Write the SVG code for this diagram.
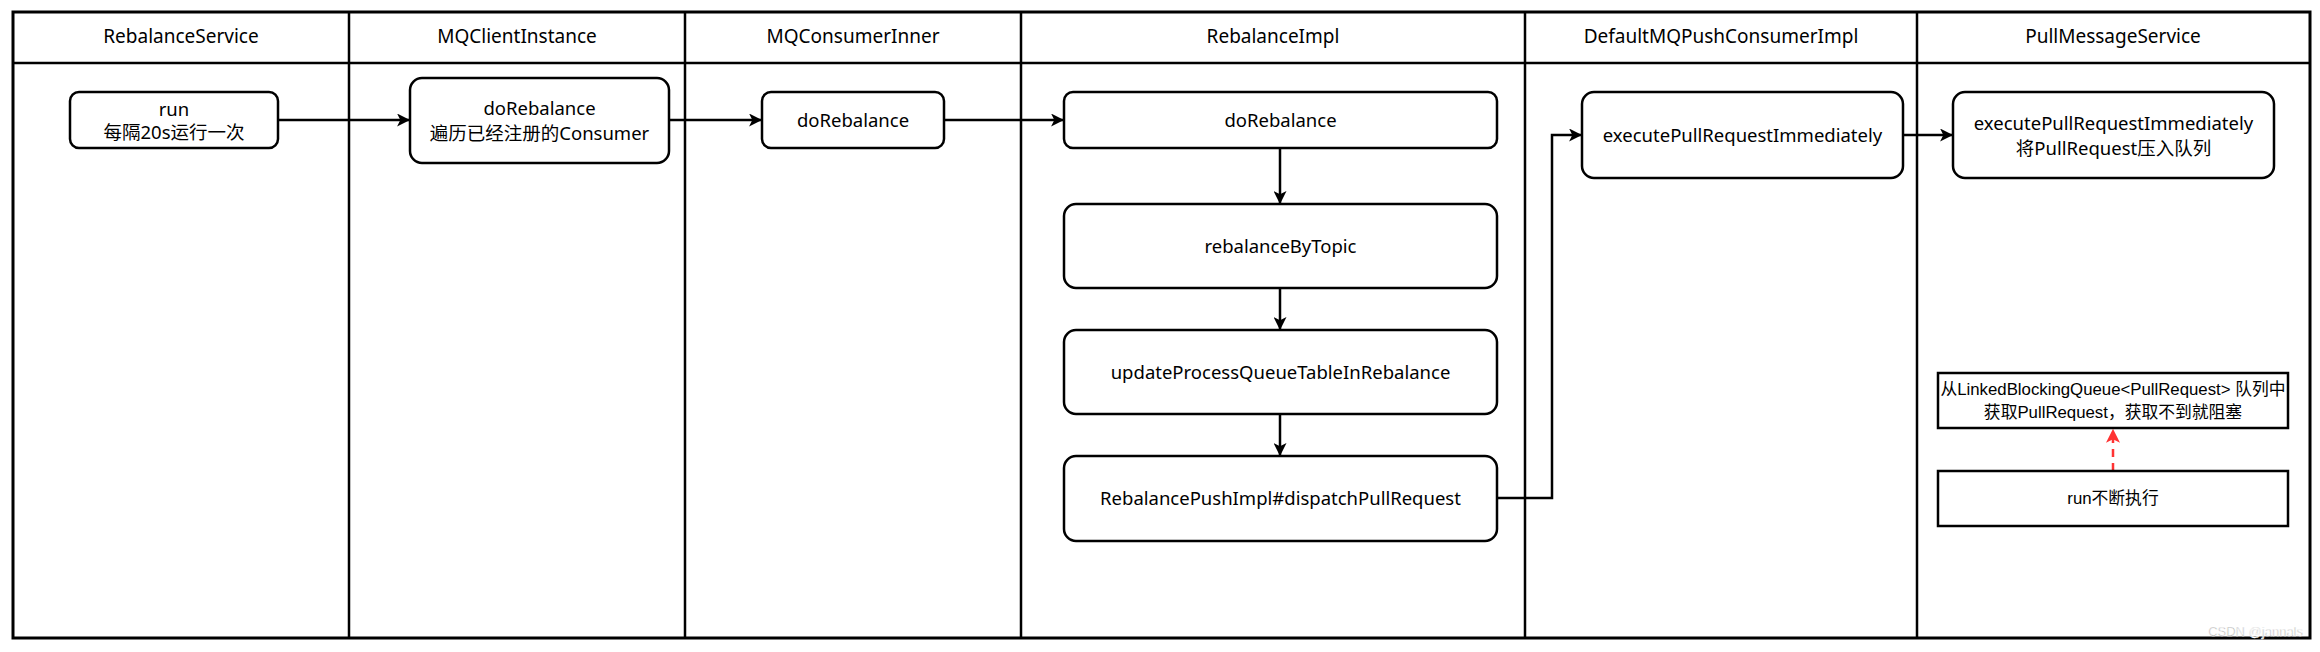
<svg xmlns="http://www.w3.org/2000/svg" width="2320" height="652" viewBox="0 0 2320 652">
<defs>
<style>
.frame{fill:none;stroke:#000;stroke-width:3}
.lane{fill:none;stroke:#000;stroke-width:2.5}
.node{fill:#fff;stroke:#000;stroke-width:2.5}
.sq{fill:#fff;stroke:#000;stroke-width:2.5}
.hd{font-family:"Noto Sans","Noto Sans CJK SC",sans-serif;font-size:19px;fill:#000;text-anchor:middle;dominant-baseline:central}
.tx{font-family:"Noto Sans","Noto Sans CJK SC",sans-serif;font-size:18.5px;fill:#000;text-anchor:middle;dominant-baseline:central}
.tx2{font-family:"Liberation Sans","Noto Sans CJK SC",sans-serif;font-size:16.8px;fill:#000;text-anchor:middle;dominant-baseline:central}
.edge{fill:none;stroke:#000;stroke-width:2.5}
.red{fill:none;stroke:#FF3333;stroke-width:2.5;stroke-dasharray:8 6}
.wm{font-family:"Liberation Sans",sans-serif;font-size:13px;fill:#999;stroke:#fff;stroke-width:0.6;text-anchor:end}
</style>
<marker id="arr" viewBox="0 0 12 12" refX="11" refY="6" markerWidth="13" markerHeight="13" markerUnits="userSpaceOnUse" orient="auto">
<path d="M0,0 L12,6 L0,12 L3,6 Z" fill="#000"/>
</marker>
<marker id="arrR" viewBox="0 0 12 12" refX="11" refY="6" markerWidth="14" markerHeight="14" markerUnits="userSpaceOnUse" orient="auto">
<path d="M0,0 L12,6 L0,12 L3,6 Z" fill="#FF3333"/>
</marker>
</defs>
<rect width="2320" height="652" fill="#fff"/>
<g id="pool">
<rect class="frame" x="13" y="12" width="2297" height="626"/>
<line class="lane" x1="13" y1="63" x2="2310" y2="63"/>
<line class="lane" x1="349" y1="12" x2="349" y2="638"/>
<line class="lane" x1="685" y1="12" x2="685" y2="638"/>
<line class="lane" x1="1021" y1="12" x2="1021" y2="638"/>
<line class="lane" x1="1525" y1="12" x2="1525" y2="638"/>
<line class="lane" x1="1917" y1="12" x2="1917" y2="638"/>
<text class="hd" x="181" y="36">RebalanceService</text>
<text class="hd" x="517" y="36">MQClientInstance</text>
<text class="hd" x="853" y="36">MQConsumerInner</text>
<text class="hd" x="1273" y="36">RebalanceImpl</text>
<text class="hd" x="1721" y="36">DefaultMQPushConsumerImpl</text>
<text class="hd" x="2113" y="36">PullMessageService</text>
</g>
<g id="connectors">
<line class="edge" x1="278" y1="120" x2="409" y2="120" marker-end="url(#arr)"/>
<line class="edge" x1="669" y1="120" x2="761" y2="120" marker-end="url(#arr)"/>
<line class="edge" x1="944" y1="120" x2="1063" y2="120" marker-end="url(#arr)"/>
<line class="edge" x1="1280" y1="148" x2="1280" y2="203" marker-end="url(#arr)"/>
<line class="edge" x1="1280" y1="288" x2="1280" y2="329" marker-end="url(#arr)"/>
<line class="edge" x1="1280" y1="414" x2="1280" y2="455" marker-end="url(#arr)"/>
<polyline class="edge" points="1497,498 1552,498 1552,135 1581,135" marker-end="url(#arr)"/>
<line class="edge" x1="1903" y1="135" x2="1952" y2="135" marker-end="url(#arr)"/>
<line class="red" x1="2113" y1="471" x2="2113" y2="430" marker-end="url(#arrR)"/>
</g>
<g id="n-run">
<rect class="node" x="70" y="92" width="208" height="56" rx="9"/>
<text class="tx" x="174" y="108">run</text>
<text class="tx" x="174" y="131">每隔20s运行一次</text>
</g>
<g id="n-client-dorebalance">
<rect class="node" x="410" y="78" width="259" height="85" rx="12"/>
<text class="tx" x="539.5" y="107">doRebalance</text>
<text class="tx" x="539.5" y="132">遍历已经注册的Consumer</text>
</g>
<g id="n-inner-dorebalance">
<rect class="node" x="762" y="92" width="182" height="56" rx="9"/>
<text class="tx" x="853" y="119">doRebalance</text>
</g>
<g id="n-impl-dorebalance">
<rect class="node" x="1064" y="92" width="433" height="56" rx="9"/>
<text class="tx" x="1280.5" y="119">doRebalance</text>
</g>
<g id="n-rebalanceByTopic">
<rect class="node" x="1064" y="204" width="433" height="84" rx="12"/>
<text class="tx" x="1280.5" y="245">rebalanceByTopic</text>
</g>
<g id="n-updateProcessQueue">
<rect class="node" x="1064" y="330" width="433" height="84" rx="12"/>
<text class="tx" x="1280.5" y="371">updateProcessQueueTableInRebalance</text>
</g>
<g id="n-dispatch">
<rect class="node" x="1064" y="456" width="433" height="85" rx="12"/>
<text class="tx" x="1280.5" y="497">RebalancePushImpl#dispatchPullRequest</text>
</g>
<g id="n-executeImmediately">
<rect class="node" x="1582" y="92" width="321" height="86" rx="12"/>
<text class="tx" x="1742.5" y="134">executePullRequestImmediately</text>
</g>
<g id="n-pull-execute">
<rect class="node" x="1953" y="92" width="321" height="86" rx="12"/>
<text class="tx" x="2113.5" y="122">executePullRequestImmediately</text>
<text class="tx" x="2113.5" y="147">将PullRequest压入队列</text>
</g>
<g id="n-take">
<rect class="sq" x="1938" y="373" width="350" height="55"/>
<text class="tx2" x="2113" y="389">从LinkedBlockingQueue&lt;PullRequest&gt; 队列中</text>
<text class="tx2" x="2113" y="412">获取PullRequest，获取不到就阻塞</text>
</g>
<g id="n-run-loop">
<rect class="sq" x="1938" y="471" width="350" height="55"/>
<text class="tx2" x="2113" y="498">run不断执行</text>
</g>
<text class="wm" x="2303" y="636">CSDN @jannals</text>
</svg>
